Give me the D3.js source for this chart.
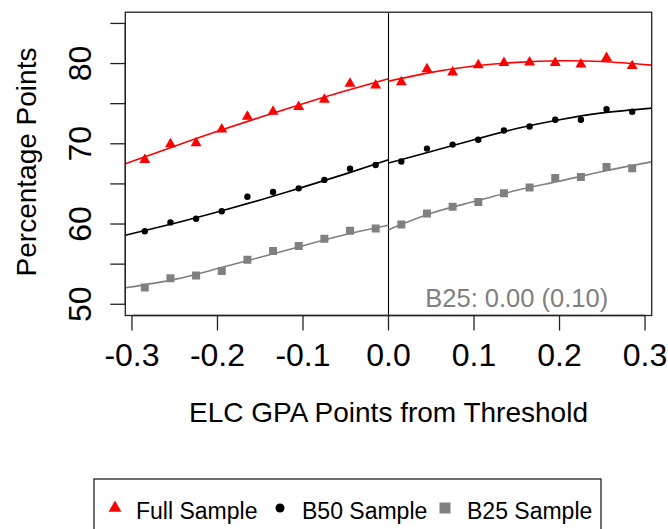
<!DOCTYPE html>
<html>
<head>
<meta charset="utf-8">
<script src="https://cdn.jsdelivr.net/npm/d3@7"></script>
<style>
  html, body { margin: 0; padding: 0; background: #fff; }
  svg { display: block; font-family: "Liberation Sans", Arial, Helvetica, sans-serif; }
</style>
</head>
<body>
<svg id="chart" width="668" height="529"></svg>
<script>
// ---- Data ----
const binX = [-0.285, -0.255, -0.225, -0.195, -0.165, -0.135, -0.105, -0.075, -0.045, -0.015,
               0.015,  0.045,  0.075,  0.105,  0.135,  0.165,  0.195,  0.225,  0.255,  0.285];
const fullSample = [68.0, 69.95, 70.1, 71.8, 73.4, 74.0, 74.6, 75.5, 77.5, 77.3,
                    77.7, 79.3, 78.9, 79.8, 80.1, 80.15, 80.1, 79.9, 80.7, 79.7];
const b50Sample  = [59.1, 60.2, 60.65, 61.6, 63.4, 64.0, 64.45, 65.5, 66.9, 67.35,
                    67.8, 69.4, 69.9, 70.5, 71.65, 72.15, 73.0, 73.0, 74.3, 74.0];
const b25Sample  = [52.1, 53.25, 53.6, 54.15, 55.55, 56.65, 57.25, 58.15, 59.15, 59.45,
                    59.95, 61.3, 62.15, 62.75, 63.85, 64.55, 65.75, 65.85, 67.1, 66.95];

// fitted curves, read at these x positions (left and right of the threshold)
const fitXLeft  = [-0.3078, -0.25, -0.2, -0.15, -0.1, -0.05, 0];
const fitXRight = [0, 0.05, 0.1, 0.15, 0.2, 0.25, 0.3078];
const fullFitLeft  = [67.5, 69.7, 71.55, 73.3, 75.0, 76.6, 78.1];
const fullFitRight = [77.8, 78.9, 79.7, 80.15, 80.35, 80.25, 79.8];
const b50FitLeft   = [58.6, 60.1, 61.5, 63.0, 64.6, 66.25, 68.0];
const b50FitRight  = [67.6, 69.05, 70.5, 71.9, 73.0, 73.85, 74.45];
const b25FitLeft   = [52.05, 53.1, 54.45, 55.85, 57.3, 58.7, 59.85];
const b25FitRight  = [59.3, 61.35, 62.8, 64.2, 65.35, 66.55, 67.75];

const xTicks = [-0.3, -0.2, -0.1, 0.0, 0.1, 0.2, 0.3];
const yTicks = [50, 55, 60, 65, 70, 75, 80, 85];
const yTickLabels = [50, 60, 70, 80];
const seriesNames = ["Full Sample", "B50 Sample", "B25 Sample"];
const annotation = "B25: 0.00 (0.10)";
const annotationX = 0.15;
const xTitle = "ELC GPA Points from Threshold";
const yTitle = "Percentage Points";

// ---- Layout ----
const svg = d3.select("#chart");
const L = 125.3, R = 651.7, T = 12.2, B = 315.5;
const x = d3.scaleLinear().domain([-0.3078, 0.3078]).range([L, R]);
const y = d3.scaleLinear().domain([48.6, 86.4]).range([B, T]);

const colors = ["#ff0000", "#000000", "#808080"];
const shapes = [d3.symbolTriangle, d3.symbolCircle, d3.symbolSquare];
const plotSizes = [52, 32, 64];
const legendSizes = [72, 64, 121];

const series = [
  {name: seriesNames[0], pts: fullSample, fitL: fullFitLeft, fitR: fullFitRight},
  {name: seriesNames[1], pts: b50Sample,  fitL: b50FitLeft,  fitR: b50FitRight},
  {name: seriesNames[2], pts: b25Sample,  fitL: b25FitLeft,  fitR: b25FitRight}
];

svg.append("clipPath").attr("id", "plotclip")
  .append("rect").attr("x", L).attr("y", T).attr("width", R - L).attr("height", B - T);

const plot = svg.append("g").attr("clip-path", "url(#plotclip)");

// threshold vertical line
plot.append("line")
  .attr("x1", x(0)).attr("x2", x(0)).attr("y1", T).attr("y2", B)
  .attr("stroke", "#000").attr("stroke-width", 1.1);

const line = d3.line().x(d => x(d[0])).y(d => y(d[1])).curve(d3.curveNatural);

series.forEach((s, i) => {
  plot.append("path")
    .attr("d", line(fitXLeft.map((xv, j) => [xv, s.fitL[j]])))
    .attr("fill", "none").attr("stroke", colors[i]).attr("stroke-width", 1.6);
  plot.append("path")
    .attr("d", line(fitXRight.map((xv, j) => [xv, s.fitR[j]])))
    .attr("fill", "none").attr("stroke", colors[i]).attr("stroke-width", 1.6);
  plot.selectAll(null).data(binX.map((xv, j) => [xv, s.pts[j]])).enter()
    .append("path")
    .attr("transform", d => `translate(${x(d[0])},${y(d[1])})`)
    .attr("d", d3.symbol().type(shapes[i]).size(plotSizes[i])())
    .attr("fill", colors[i]);
});

// annotation
svg.append("text")
  .attr("x", x(annotationX)).attr("y", y(49.65))
  .attr("text-anchor", "middle")
  .attr("font-size", 25.5).attr("fill", "#808080")
  .text(annotation);

// box
svg.append("rect").attr("x", L).attr("y", T).attr("width", R - L).attr("height", B - T)
  .attr("fill", "none").attr("stroke", "#222").attr("stroke-width", 1.3);

// x axis
const xAxis = svg.append("g");
xAxis.append("line").attr("x1", x(xTicks[0])).attr("x2", x(xTicks[xTicks.length - 1]))
  .attr("y1", B).attr("y2", B).attr("stroke", "#222").attr("stroke-width", 1.3);
xTicks.forEach(t => {
  xAxis.append("line").attr("x1", x(t)).attr("x2", x(t)).attr("y1", B).attr("y2", B + 15)
    .attr("stroke", "#222").attr("stroke-width", 1.3);
  xAxis.append("text").attr("x", x(t)).attr("y", 366)
    .attr("text-anchor", "middle").attr("font-size", 32).attr("fill", "#000")
    .text(d3.format(".1f")(t).replace("−", "-"));
});

// y axis
const yAxis = svg.append("g");
yAxis.append("line").attr("x1", L).attr("x2", L)
  .attr("y1", y(yTicks[0])).attr("y2", y(yTicks[yTicks.length - 1]))
  .attr("stroke", "#222").attr("stroke-width", 1.3);
yTicks.forEach(t => {
  yAxis.append("line").attr("x1", L - 15).attr("x2", L).attr("y1", y(t)).attr("y2", y(t))
    .attr("stroke", "#222").attr("stroke-width", 1.3);
});
yTickLabels.forEach(t => {
  yAxis.append("text")
    .attr("transform", `translate(90.7,${y(t)}) rotate(-90)`)
    .attr("text-anchor", "middle").attr("font-size", 32).attr("fill", "#000")
    .text(t);
});

// axis titles
svg.append("text").attr("x", (L + R) / 2).attr("y", 421.7)
  .attr("text-anchor", "middle").attr("font-size", 28).attr("fill", "#000")
  .text(xTitle);
svg.append("text")
  .attr("transform", `translate(36,162) rotate(-90)`)
  .attr("text-anchor", "middle").attr("font-size", 28).attr("fill", "#000")
  .text(yTitle);

// legend
const lg = svg.append("g");
lg.append("rect").attr("x", 94).attr("y", 479).attr("width", 507).attr("height", 80)
  .attr("fill", "#fff").attr("stroke", "#222").attr("stroke-width", 1.3);
const symX = [115, 280, 445];
const txtX = [136, 302, 467];
series.forEach((s, i) => {
  lg.append("path")
    .attr("transform", `translate(${symX[i]},508)`)
    .attr("d", d3.symbol().type(shapes[i]).size(legendSizes[i])())
    .attr("fill", colors[i]);
  lg.append("text").attr("x", txtX[i]).attr("y", 519)
    .attr("font-size", 23).attr("fill", "#000").text(s.name);
});
</script>
</body>
</html>
